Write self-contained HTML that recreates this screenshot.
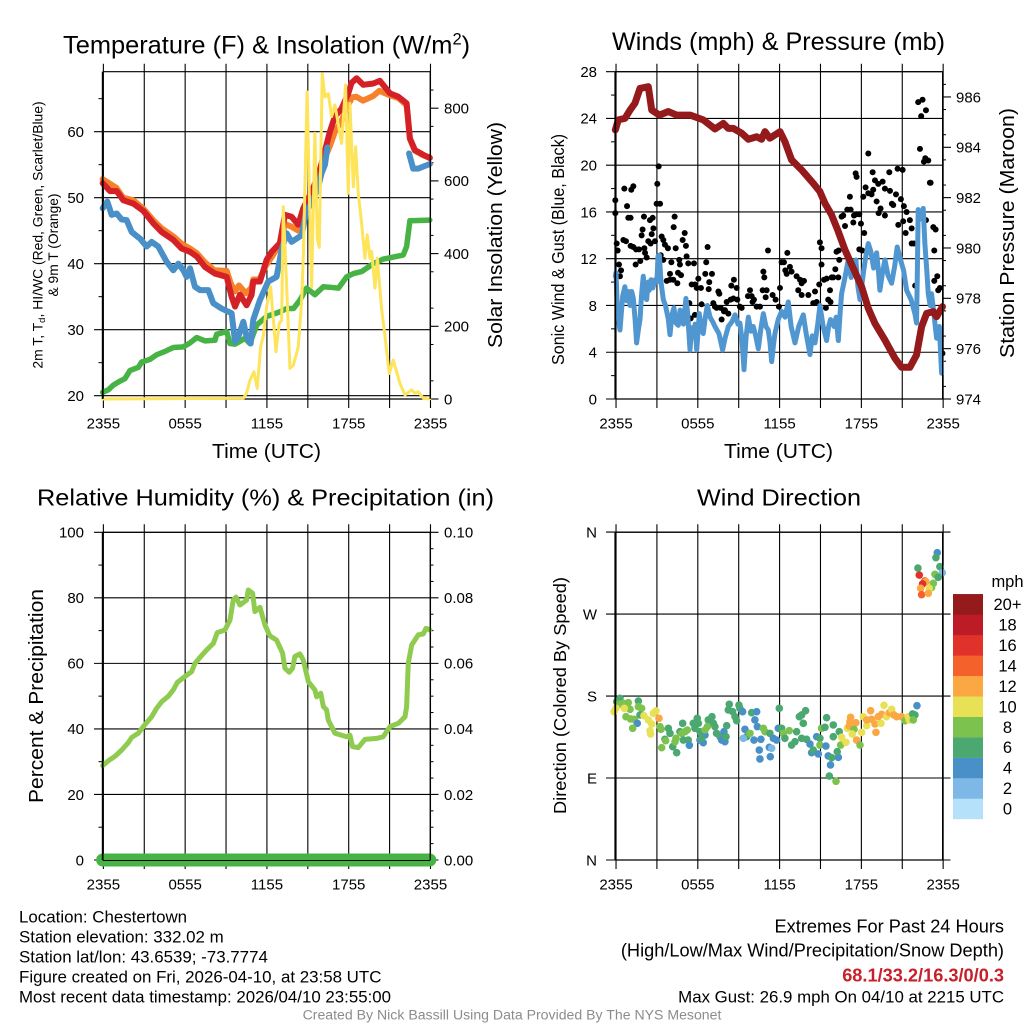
<!DOCTYPE html>
<html>
<head>
<meta charset="utf-8">
<title>Chestertown Station Meteogram</title>
<style>
html,body{margin:0;padding:0;background:#fff;}
svg{display:block;font-family:"Liberation Sans",Arial,sans-serif;fill:#000;}
</style>
</head>
<body>
<svg id="chart" width="1024" height="1024" viewBox="0 0 1024 1024">
<rect x="0" y="0" width="1024" height="1024" fill="#fff"/>
<text x="63" y="53.5" font-size="25.4">Temperature (F) &amp; Insolation (W/m<tspan dy="-9" font-size="16.5">2</tspan><tspan dy="9">)</tspan></text>
<text x="612" y="50" font-size="25" textLength="333" lengthAdjust="spacingAndGlyphs">Winds (mph) &amp; Pressure (mb)</text>
<text x="37" y="505.5" font-size="23.5" textLength="457" lengthAdjust="spacingAndGlyphs">Relative Humidity (%) &amp; Precipitation (in)</text>
<text x="697" y="505.5" font-size="23.5" textLength="164" lengthAdjust="spacingAndGlyphs">Wind Direction</text>
<text x="212" y="458" font-size="20" textLength="109" lengthAdjust="spacingAndGlyphs">Time (UTC)</text>
<text x="724" y="458" font-size="20" textLength="109" lengthAdjust="spacingAndGlyphs">Time (UTC)</text>
<text transform="translate(42.5 235) rotate(-90)" text-anchor="middle" font-size="13.9">2m T, T<tspan dy="2.5" font-size="9.5">d</tspan><tspan dy="-2.5">, HI/WC (Red, Green, Scarlet/Blue)</tspan></text>
<text transform="translate(58 245) rotate(-90)" text-anchor="middle" font-size="13.8">&amp; 9m T (Orange)</text>
<text transform="translate(502 235) rotate(-90)" text-anchor="middle" font-size="20" textLength="226" lengthAdjust="spacingAndGlyphs">Solar Insolation (Yellow)</text>
<text transform="translate(564 249.5) rotate(-90)" text-anchor="middle" font-size="17.3" textLength="231" lengthAdjust="spacingAndGlyphs">Sonic Wind &amp; Gust (Blue, Black)</text>
<text transform="translate(1014 233) rotate(-90)" text-anchor="middle" font-size="20" textLength="250" lengthAdjust="spacingAndGlyphs">Station Pressure (Maroon)</text>
<text transform="translate(43 696) rotate(-90)" text-anchor="middle" font-size="20" textLength="214" lengthAdjust="spacingAndGlyphs">Percent &amp; Precipitation</text>
<text transform="translate(566 695.5) rotate(-90)" text-anchor="middle" font-size="17.3" textLength="237" lengthAdjust="spacingAndGlyphs">Direction (Colored By Speed)</text>
<text x="1007.5" y="587" text-anchor="middle" font-size="16.5">mph</text>
<text x="19" y="922.5" font-size="16.9">Location: Chestertown</text>
<text x="19" y="942.5" font-size="16.9">Station elevation: 332.02 m</text>
<text x="19" y="962.5" font-size="16.9">Station lat/lon: 43.6539; -73.7774</text>
<text x="19" y="982.5" font-size="16.9">Figure created on Fri, 2026-04-10, at 23:58 UTC</text>
<text x="19" y="1002.5" font-size="16.9" textLength="372" lengthAdjust="spacingAndGlyphs">Most recent data timestamp: 2026/04/10 23:55:00</text>
<text x="1004" y="932.7" text-anchor="end" font-size="18.2">Extremes For Past 24 Hours</text>
<text x="1004" y="956.5" text-anchor="end" font-size="18.2">(High/Low/Max Wind/Precipitation/Snow Depth)</text>
<text x="1004" y="981.5" text-anchor="end" font-size="18.2" font-weight="bold" fill="#c8202a" style="fill:#c8202a">68.1/33.2/16.3/0/0.3</text>
<text x="1004" y="1002.7" text-anchor="end" font-size="16.85">Max Gust: 26.9 mph On 04/10 at 2215 UTC</text>
<text x="512" y="1019.5" text-anchor="middle" font-size="14.1" style="fill:#8c8c8c">Created By Nick Bassill Using Data Provided By The NYS Mesonet</text>
</svg>
<script>
// ---- shared tick labels ----
const timeTickLabels = ['2355', '0555', '1155', '1755', '2355'];
const tempTicks = [20, 30, 40, 50, 60];
const solarTicks = [0, 200, 400, 600, 800];
const windTicks = [0, 4, 8, 12, 16, 20, 24, 28];
const pressureTicks = [974, 976, 978, 980, 982, 984, 986];
const humidityTicks = [0, 20, 40, 60, 80, 100];
const precipTicks = [0, 0.02, 0.04, 0.06, 0.08, 0.10];
const directionTicks = [0, 90, 180, 270, 360];
const directionLabels = ['N', 'E', 'S', 'W', 'N'];
const speedLabels = ['0', '2', '4', '6', '8', '10', '12', '14', '16', '18', '20+'];
const speedColors = ['#b5e2fa', '#7eb8e6', '#4a90c8', '#4aa870', '#7cc24f', '#e8e155', '#fba844', '#f4612a', '#e0322a', '#bd1c26', '#951a1c'];

// ---- temperature panel ----
const heatHours = [0,0.54,1.03,1.52,2.25,2.98,3.72,4.33,5.18,5.79,6.41,6.9,7.51,8.24,9.1,9.46,9.71,10.07,10.56,10.93,11.05,11.54,12.03,12.4,13,13.37,13.86,14.35,14.72,15.33,15.82,16.19,16.67,17.04,17.53,18.02,18.26,18.63,19.12,19.85,20.34,21.08,21.69,22.3,22.54,22.91,23.52,24];
const heatValues = [52.2,51,51,49.6,49.1,48,46.1,44.8,43.6,42.3,41.8,41.1,39.5,38.5,38,35,33.5,35.3,33.7,35.3,37.3,37.3,40.6,41.8,43.1,47.4,47.1,45.9,48.4,50.9,53.4,56.2,60,62.3,63.5,65.8,67.4,68.1,67.1,67.3,67.7,65.8,65.3,64.3,59,57.2,56.5,56];
const nineMeterHours = [0,1,1.5,2.25,3,3.7,4.3,5.2,5.8,6.4,6.9,7.5,8.2,9.1,9.4,9.7,10,10.5,10.9,11.05,11.5,12,12.4,13,13.37,13.86,14.35,14.7,15.3,15.8,16.2,16.7,17.04,17.5,18,18.3,18.6,19.1,19.85,20.3,21.08,21.7,22.3,22.54,22.91,23.52,24];
const nineMeterValues = [52.8,51.5,50,49.6,48.3,46.6,45.4,44.1,43,42.3,41.6,40.2,39,38.9,37,35.8,36.7,35.5,36.3,37.6,37.6,39.8,41,43,46,45.6,45,47.5,50.5,53,55.5,58,60,61.5,64,65.2,65.3,64.7,65.4,66.2,65.5,65.1,64,58.9,57.1,56.4,56.1];
const chillHours = [0,0.34,0.66,1.03,1.39,1.76,2.13,2.74,3.23,3.59,4.08,4.69,5.18,5.55,5.92,6.16,6.41,6.77,7.14,7.75,8.12,8.73,9.46,9.71,9.95,10.32,10.56,10.86,11.05,11.54,12.15,12.76,13.13,13.5,13.86,14.6,14.96,15.33,15.82,16.06,16.31,16.48,null,22.48,22.78,23.15,24];
const chillValues = [48.4,49.4,47.4,47.6,46.7,46.6,44.8,43.8,42.6,43.3,42.6,40.3,39,40,39,38,39.3,36.5,36,36,34,33.2,32.5,28.2,28.9,31.2,28.9,27.9,31.5,34.5,37.3,38,42.1,44.6,43.3,44.3,48.1,49.1,51.7,53.7,55,57.6,null,56.7,54.4,54.4,55.1];
const dewHours = [0,0.42,0.78,1.27,1.64,2,2.62,2.86,3.47,3.96,4.57,5.18,5.92,6.41,6.9,7.51,8.24,8.36,9.1,9.34,9.71,10.2,10.44,10.8,11.3,12.03,13,13.5,14,14.48,14.96,15.57,16.19,16.8,17.3,17.9,18.4,19,19.85,20.6,22.05,22.3,22.54,24];
const dewValues = [20.5,20.9,21.6,22.2,22.6,23.8,24.3,25.1,25.5,26.2,26.7,27.3,27.4,28,28.8,28.3,28.4,29.3,29.7,27.9,27.8,28.4,28.7,27.9,30.7,32,32.7,33.2,33.2,34.5,36.3,35.3,36.5,36.4,36.3,38,38.5,38.8,40,40.7,41.3,42.6,46.5,46.6];
const solarHours = [0,10.32,10.56,10.81,11.1,11.34,11.59,11.78,12.03,12.32,12.57,12.71,12.96,13.13,13.25,13.5,13.74,13.99,14.35,14.6,14.72,15,15.16,15.33,15.57,15.75,15.89,16.11,16.31,16.55,16.8,17.04,17.53,17.82,18.02,18.14,18.39,18.56,18.75,19,19.24,19.41,19.61,19.73,19.98,20.15,20.46,20.7,21.03,21.32,21.81,22.18,22.67,22.9,23.15,23.52,24];
const solarValues = [0,2,16,52,75,29,144,172,254,309,199,130,208,216,529,309,84,93,143,272,391,845,566,308,731,440,417,895,831,840,777,809,703,864,566,813,584,694,566,483,387,452,387,406,305,387,250,176,70,107,43,11,25,16,20,2,0];

// ---- wind panel ----
const sustainedHours = [0,0.05,0.15,0.34,0.45,0.54,0.7,0.83,0.95,1.08,1.2,1.32,1.45,1.56,1.7,1.81,1.93,2.05,2.18,2.3,2.4,2.49,2.62,2.75,2.91,3.05,3.13,3.23,3.35,3.52,3.68,3.89,4.01,4.15,4.3,4.45,4.62,4.75,4.87,5,5.18,5.3,5.48,5.6,5.72,5.85,5.97,6.08,6.16,6.3,6.45,6.6,6.75,6.95,7.15,7.31,7.6,7.87,8.05,8.29,8.55,8.78,9,9.14,9.3,9.44,9.6,9.76,9.95,10.12,10.3,10.49,10.7,10.86,11.05,11.22,11.35,11.47,11.6,11.71,11.95,12.2,12.45,12.69,12.9,13.18,13.45,13.79,14,14.28,14.45,14.65,14.85,15.01,15.25,15.5,15.65,15.79,16.05,16.2,16.36,16.5,16.6,16.85,17.09,17.3,17.65,17.8,17.95,18.2,18.35,18.56,18.75,18.95,19.17,19.3,19.41,19.6,19.78,20,20.27,20.5,20.68,20.9,21.15,21.37,21.7,21.98,22.1,22.16,22.22,22.4,22.59,22.71,22.85,22.96,23.1,23.2,23.4,23.57,23.77,23.94];
const sustainedValues = [10.5,10.8,7.6,5.9,7.5,8.8,9.6,8.4,9.2,8,9.2,8.6,6.8,4.8,6,6.8,9,10.5,8.8,8.5,10,9.3,10.2,9.5,10.2,10,12.2,12.3,10,8.5,8,6.8,5.5,7.2,7.8,6.5,6.3,7.6,7.1,6.4,8.6,7.4,4.2,6.1,5.3,6.4,4.2,5.9,7.3,6,5.6,7,8,7,6.6,6.2,5.6,4.2,5.2,6.2,6.6,7.2,6.4,6.5,5,2.5,5.4,7,5.8,6.2,5.4,4.3,6.2,7.3,6.2,5.9,4.8,3.2,4.6,5.6,6.8,7.5,7,8.3,6.2,4.8,6.2,7.2,5.6,3.8,5.4,4.8,6.4,8,6.2,5,6.2,6.8,6.2,7,5,7.5,9,10.4,11.9,10.4,11.9,9.6,8.5,10.8,12,13.3,12.6,11.2,12.5,11,9.3,10.8,11.9,10.6,9.9,11.4,13,12,11,9.3,8.5,7.3,6.5,11,16.2,15.4,16.3,13.3,11,9,8,9,7,5.2,6.2,2.2];
const gustHours = [0,0,0.1,0.17,0.27,0.42,0.34,0.59,0.78,0.66,0.86,1.17,1.32,0.95,1.12,1.12,1.32,1.52,1.74,1.49,1.83,2.13,2.18,2.3,2.1,2,1.93,2.42,2.59,2.54,2.74,2.79,2.67,2.91,3.08,3.18,3.03,3.28,3.4,3.52,3.64,3.33,3.52,3.86,4.11,4.01,3.77,4.01,4.25,4.28,4.35,4.43,4.55,4.69,4.6,4.82,4.74,4.94,5.09,5.18,5.23,5.35,5.77,5.6,5.84,6.09,5.97,6.28,6.67,6.77,6.6,6.89,7.09,6.85,6.33,5.43,5.84,5.53,6.21,7.19,7.31,7.56,7.63,7.43,7.73,8.17,8.46,8.51,8.7,8.9,8.66,8.95,9.14,9.27,7.97,8.29,8.04,7.8,9.73,9.88,10,10.17,10.07,10.37,10.61,10.81,11.1,11.03,10.86,10.93,11.2,11.54,11.76,12,12.08,12.2,12.37,12.62,12.47,12.57,12.81,12.93,13.3,13.55,13.67,13.84,13.42,13.67,14.16,14.52,14.77,14.65,14.96,15.01,15.13,15.13,15.31,15.5,15.87,15.75,15.62,15.79,15.45,16.14,16.23,16.38,16.43,15.99,16.36,16.6,16.85,16.72,17.02,17.21,17.26,17.46,17.51,17.7,17.9,18.02,18.26,17.9,18.12,17.63,17.7,18.56,18.36,18.88,19.05,19.61,20.1,20.71,21.08,18.19,18.56,18.8,18.92,19.29,19.78,20.15,20.59,20.95,19.17,19.46,20.39,20.29,19.78,19.32,21.17,21.37,20.76,21.12,21.3,21.61,21.74,21.74,21.91,23.33,23.5,22.79,22.22,22.54,22.79,22.44,22.35,22.64,22.74,22.96,23.08,23.13,22,23.4,23.62,23.69,23.81,23.4,24];
const gustValues = [15.9,17,13.3,12.7,11.5,11,10.5,13.6,13.5,18,16.5,17.9,18.2,15.5,15.5,13.1,13,12.8,12.8,11.5,11.8,12.9,12.5,12.1,15.6,14.5,14,13.5,13.3,15.3,15.5,14.6,14.1,13.5,18.4,19.9,16.7,16.7,13.9,13.6,13.2,12.3,11.9,12.9,11.7,10.7,10.1,10.2,10.2,14.7,15.6,12.9,9.9,11.9,10.8,10.6,11.5,13.6,14.2,13.1,12.2,11.6,11.6,9.8,9.8,10.3,9.5,9.5,11.7,13,10.7,10,10.7,9.4,8.1,8.2,7.2,6.9,6.6,8.2,7.9,9.2,9,7.8,7.8,8.3,8.5,9.7,10.2,9.5,8.6,8.5,7.9,7.8,7.5,7.3,7.6,6.8,8.8,9.3,8.8,8.5,8.3,7.9,7.9,9.3,9.3,8.7,10.9,10.4,12.7,8.9,8.5,7.9,9.5,11.7,11.7,12.5,11,10.7,11.3,10.9,10.5,10.2,9.9,10.1,9.3,8.9,8.9,8.2,8.3,9.2,9.8,13.4,12.9,11.5,10.2,10.3,10.4,9.3,8.5,8.3,7.8,11.1,12.6,12.7,11.9,10.4,10.4,15.6,14.8,15.7,16.2,17.3,16.2,15.1,15.7,15.8,15.8,15,14.2,12.8,12.7,19.3,19,21,18.1,19.4,18.7,18.6,19.4,19.7,19.6,17.3,17.6,17.5,17.9,18.4,18,17.8,17.5,17.1,16.9,16.3,16.6,16.7,15.7,15.9,16.5,16,14.9,15.2,14.2,15.3,14.6,13.3,13.3,14.7,14.5,15.3,25.4,25.6,24.7,24.2,21.4,20.3,20.6,20.4,18.5,18.5,9.7,10.1,10.5,9.3,9.5,12.7,3.9];
const pressureHours = [0,0.22,0.71,1.08,1.44,1.81,2.42,2.67,3.23,3.89,4.5,5.48,6.45,7.31,7.92,8.29,8.66,9.27,9.76,10.37,10.73,10.98,11.34,12.08,12.44,12.93,13.67,14.52,15.01,15.38,15.87,16.36,16.85,17.46,18.07,18.56,19.05,19.78,20.51,21,21.61,22.1,22.47,22.84,23.33,23.57,24];
const pressureValues = [984.69,985.09,985.15,985.48,985.75,986.34,986.41,985.48,985.28,985.42,985.28,985.28,985.09,984.73,984.95,984.75,984.75,984.56,984.32,984.42,984.32,984.62,984.36,984.62,984.23,983.5,983.1,982.57,982.24,981.77,981.31,980.65,979.92,979.19,978.46,977.6,977,976.34,975.62,975.26,975.26,975.75,976.87,977.4,977.47,977.27,977.67];

// ---- humidity and precipitation panel ----
const humidityHours = [0,0.42,0.92,1.41,1.88,2.13,2.62,2.98,3.59,3.96,4.33,4.82,5.18,5.48,6.04,6.53,6.77,7.26,7.63,8.12,8.41,8.97,9.34,9.58,9.78,10.07,10.56,10.68,11,11.17,11.54,11.91,12.27,12.76,13.2,13.37,13.69,13.93,14.1,14.47,14.72,15.09,15.57,15.7,16,16.19,16.43,16.55,17.04,17.9,18.14,18.34,18.75,19.24,20.1,20.58,21.08,21.69,22.18,22.3,22.42,22.67,23.15,23.52,23.72,24];
const humidityValues = [28.8,30.3,31.7,33.6,35.8,37.4,38.7,40.7,43.7,46.3,48.3,50,51.9,54.2,56,57.5,60,62.4,64.1,66.1,69.4,70.2,73.2,79.3,80.2,77.8,79.3,82.4,81.4,75.8,77.1,71.7,68.4,67.1,63.1,58.5,57.3,58.5,62.1,62.9,61,54.4,51.9,49.8,50.9,46.8,45.8,42.7,38.7,37.6,38.1,34.6,34.3,36.8,37.1,37.6,40.7,41.7,43.7,46.8,60,65.6,68.7,69,70.7,70.2];
const precipHours = [0, 24];
const precipValues = [0, 0];

// ---- wind direction panel ----
const directionHours = [
0.34,0.1,0.29,0.59,0.95,1.08,-0.1,0.05,0.66,1.69,
1.69,1.93,1.81,0.78,1.12,1.39,1.61,1.27,2.1,2.42,
2.79,2.98,2.67,2.54,2.59,3.2,3.28,3.35,3.89,4.01,
4.94,3.64,3.69,3.4,4.21,4.5,4.38,4.45,4.74,4.87,
5.11,5.28,4.99,5.35,5.43,5.72,6.01,6.09,5.84,6.21,
6.21,6.45,6.58,6.33,6.82,7.09,7.19,7.31,6.58,6.75,
7.43,7.68,7.97,7.8,8.04,8.12,8.17,8.36,8.29,8.61,
8.78,8.9,9.07,9.14,9.34,10,10.37,10.24,10.42,9.51,
9.63,9.39,9.88,10.17,10.68,10.86,10.98,11.34,10.56,10.61,
11.3,11.47,11.37,11.59,11.83,11.96,12.2,12.03,12.32,12.44,
12.76,13.3,12.93,13.18,13.5,13.96,13.67,13.79,13.67,14.03,
14.28,14.4,14.52,14.89,14.77,15.01,15.13,15.38,15.5,15.01,
15.45,15.99,16.43,15.99,15.62,15.87,16.36,16.28,15.79,15.7,
16.19,16.53,16.6,16.92,17.02,17.21,17.26,17.16,17.65,17.51,
17.38,17.7,17.95,18.07,18.19,18.44,18.44,18.73,18.8,19.12,
19.05,19.49,19.29,19.54,19.71,19.9,20.1,20.27,20.44,20.64,
21,21.25,21.49,21.56,21.81,21.98,21.86,22.13,23.62,23.52,
23.81,23.99,23.45,23.69,22.2,22.3,22.71,22.79,22.54,23.33,
23.2,23.03,22.4,22.47,22.96];
const directionDegrees = [
177.5,173.8,171.2,172,172.7,165.4,162.8,166.5,166.5,174.5,
168.3,166.5,159.2,157.3,154.8,154.4,150,144.5,158.4,153.7,
161,163.6,149.3,142,138.3,155.5,146.4,143.4,144.5,139,
150,132.5,131,123.3,124.4,117.8,129.9,133.6,140.9,139,
140.9,142.7,131.7,131.7,125.9,150,155.5,150,144.5,140.9,
131.7,128.8,137.2,133.6,153.7,157.3,150,146.4,142.7,146.4,
139,135.4,140.9,131.7,129.9,135.4,147.5,170.9,164.7,162.8,
157.3,152.9,170.1,166.5,162.8,161.7,162.8,153.7,146.4,143.4,
135.4,133.6,139,131.7,132.5,144.5,140.9,139,120.7,110.9,
123.7,122.6,113.4,133.6,131.7,144.5,144.5,166.5,139,133.6,
142,140.9,126.2,129.9,157.3,163.9,159.2,150,133.6,132.5,
127.3,117.8,120.7,116.4,135.4,133.6,144.5,145.6,156.2,126.2,
125.1,148.2,140.9,135.4,114.2,112.3,112.7,118.9,104.3,92.2,
86.4,126.2,134.7,129.2,144.5,151.8,156.6,147.1,150.7,143.4,
138.3,131.7,126.2,140.1,157.3,147.5,153.7,163.9,154.4,140.1,
149.3,150,157.3,159.9,169.8,157.3,161.7,165.4,159.2,157.3,
157.3,152.9,157.3,153.7,160.3,159.2,153.7,169.4,337.4,331.9,
322,315.4,313.6,310.3,320.5,312.8,306.3,305.5,303,303.7,
299,298.2,298.2,291.3,292.7];
const directionSpeeds = [
6,6,8,8,8,8,10,10,10,6,
8,8,6,8,8,8,4,8,10,10,
10,10,10,10,10,12,8,8,6,6,
6,6,8,8,6,6,8,8,6,8,
8,8,6,6,4,6,6,6,6,6,
4,4,4,6,6,6,6,6,8,8,
6,6,4,4,4,6,6,6,6,6,
6,6,6,6,4,6,4,4,4,4,
6,2,8,4,4,8,8,6,4,4,
4,2,4,4,4,4,6,6,8,6,
8,6,6,6,6,6,6,6,6,6,
4,4,6,4,4,6,8,6,6,8,
4,6,6,6,4,6,4,6,4,6,
8,8,10,10,10,12,12,12,12,8,
10,12,8,10,10,10,12,12,12,12,
12,10,12,12,10,10,12,10,12,12,
12,8,10,10,6,6,8,4,4,6,
6,2,8,6,6,16,14,12,16,8,
8,10,12,14,12];

const svg = document.getElementById('chart');
const NS = svg.namespaceURI;

// ---- axis functions ----
function xLeft(h) { return 102.67 + h * 13.63; }
function xRight(h) { return 615.33 + h * 13.63; }
function yTemp(v) { return 395.67 - (v - 20) * 6.6; }
function ySolar(v) { return 399 - v * 0.3635; }
function yWind(v) { return 399 - v * 11.69; }
function yPressure(v) { return 399 - (v - 974) * 25.17; }
function yHumidity(v) { return 860 - v * 3.277; }
function yPrecip(v) { return 860 - v * 3277; }
function yDirection(v) { return 860 - v * 0.911; }

function addLine(x1, y1, x2, y2, w) {
  const el = document.createElementNS(NS, 'line');
  el.setAttribute('x1', x1);
  el.setAttribute('y1', y1);
  el.setAttribute('x2', x2);
  el.setAttribute('y2', y2);
  el.setAttribute('stroke', '#000');
  el.setAttribute('stroke-width', w);
  svg.appendChild(el);
  return el;
}
function addText(x, y, str, anchor, size) {
  const el = document.createElementNS(NS, 'text');
  el.setAttribute('x', x);
  el.setAttribute('y', y);
  el.setAttribute('text-anchor', anchor);
  el.setAttribute('font-size', size);
  el.textContent = str;
  svg.appendChild(el);
  return el;
}
function addSeries(hours, values, xFn, yFn, color, width) {
  let d = '';
  let pen = false;
  for (let i = 0; i < hours.length; i++) {
    if (hours[i] === null || values[i] === null) { pen = false; continue; }
    d += (pen ? 'L' : 'M') + xFn(hours[i]).toFixed(2) + ' ' + yFn(values[i]).toFixed(2);
    pen = true;
  }
  const el = document.createElementNS(NS, 'path');
  el.setAttribute('d', d);
  el.setAttribute('fill', 'none');
  el.setAttribute('stroke', color);
  el.setAttribute('stroke-width', width);
  el.setAttribute('stroke-linejoin', 'round');
  el.setAttribute('stroke-linecap', 'round');
  svg.appendChild(el);
  return el;
}
function addDot(x, y, r, color) {
  const el = document.createElementNS(NS, 'circle');
  el.setAttribute('cx', x.toFixed(2));
  el.setAttribute('cy', y.toFixed(2));
  el.setAttribute('r', r);
  el.style.fill = color;
  svg.appendChild(el);
  return el;
}

// ---- axes shared pieces ----
function drawVerticalGrid(xFn, top, bottom, labelY) {
  for (let h = 0; h <= 24; h += 3) {
    const x = xFn(h) + 0.7;
    const g = addLine(x, top - 8, x, bottom + 9, 1.1);
    
    
  }
  timeTickLabels.forEach(function (lab, i) {
    const t = addText(xFn(i * 6) + 0.7, labelY, lab, 'middle', 15);
    
    
  });
}
function drawHorizontalGrid(ticks, yFn, x1, x2) {
  ticks.forEach(function (v) {
    const g = addLine(x1, yFn(v), x2, yFn(v), 1.1);
    
    
  });
}
function drawTickLabels(ticks, labels, yFn, x, anchor) {
  ticks.forEach(function (v, i) {
    const t = addText(x, yFn(v) + 5.3, labels[i], anchor, 15);
    
    
  });
}
function drawMinorTicks(start, end, step, yFn, x1, x2) {
  for (let v = start; v <= end + 1e-9; v += step) {
    const m = addLine(x1, yFn(v), x2, yFn(v), 1);
    
    
  }
}
function drawMajorTicks(ticks, yFn, x1, x2) {
  ticks.forEach(function (v) {
    const m = addLine(x1, yFn(v), x2, yFn(v), 1.1);
    
    
  });
}
function drawFrameSide(x1, y1, x2, y2, w) {
  const f = addLine(x1, y1, x2, y2, w);
  
  
}

// ---- panel 1: temperature & insolation ----
drawVerticalGrid(xLeft, 71.7, 399, 428.5);
drawHorizontalGrid(tempTicks, yTemp, 94, 430);
drawMinorTicks(25, 65, 10, yTemp, 98.5, 102.7);
drawMajorTicks(solarTicks, ySolar, 430, 438.5);
drawMinorTicks(50, 850, 100, ySolar, 430, 433.5);
drawTickLabels(tempTicks, tempTicks.map(String), yTemp, 84, 'end');
drawTickLabels(solarTicks, solarTicks.map(String), ySolar, 444, 'start');
drawFrameSide(102.7, 399, 430, 399, 1.2);
const dewLine = addSeries(dewHours, dewValues, xLeft, yTemp, '#46b344', 5.5);


const nineMeterLine = addSeries(nineMeterHours, nineMeterValues, xLeft, yTemp, '#f7802b', 6);


const heatLine = addSeries(heatHours, heatValues, xLeft, yTemp, '#d42127', 6);


const chillLine = addSeries(chillHours, chillValues, xLeft, yTemp, '#4a90c8', 6);


const solarLine = addSeries(solarHours, solarValues, xLeft, ySolar, '#fde45a', 3);


drawFrameSide(102.7, 71.7, 430.2, 71.7, 1.2);
drawFrameSide(102.7, 71.7, 102.7, 399, 1.8);
drawFrameSide(430.2, 71.7, 430.2, 399, 1.2);

// ---- panel 2: winds & pressure ----
drawVerticalGrid(xRight, 71.7, 399, 428.5);
drawHorizontalGrid(windTicks, yWind, 606, 942.6);
drawMinorTicks(2, 26, 4, yWind, 611, 615.3);
drawMajorTicks(pressureTicks, yPressure, 942.6, 951);
drawMinorTicks(974.5, 986.5, 1, yPressure, 942.6, 946);
drawTickLabels(windTicks, windTicks.map(String), yWind, 597, 'end');
drawTickLabels(pressureTicks, pressureTicks.map(String), yPressure, 956, 'start');
gustHours.forEach(function (h, i) {
  const dot = addDot(xRight(h), yWind(gustValues[i]), 3, '#000');
  
  
});
const sustainedLine = addSeries(sustainedHours, sustainedValues, xRight, yWind, '#5096d0', 5);


const pressureLine = addSeries(pressureHours, pressureValues, xRight, yPressure, '#951a1c', 7);


drawFrameSide(615.3, 71.7, 942.6, 71.7, 1.2);
drawFrameSide(615.3, 399, 942.6, 399, 1.2);
drawFrameSide(615.3, 71.7, 615.3, 399, 1.8);
drawFrameSide(942.6, 71.7, 942.6, 399, 1.2);

// ---- panel 3: humidity & precipitation ----
drawVerticalGrid(xLeft, 532.3, 860, 889.5);
drawHorizontalGrid(humidityTicks, yHumidity, 94, 438.5);
drawMinorTicks(10, 90, 20, yHumidity, 98.5, 102.7);
drawMinorTicks(0.005, 0.095, 0.01, yPrecip, 430, 433.5);
drawMinorTicks(0.01, 0.09, 0.02, yPrecip, 430, 433.5);
drawTickLabels(humidityTicks, humidityTicks.map(String), yHumidity, 84, 'end');
drawTickLabels(precipTicks, precipTicks.map(function (v) { return v.toFixed(2); }), yPrecip, 444, 'start');
const humidityLine = addSeries(humidityHours, humidityValues, xLeft, yHumidity, '#8fcb4f', 5);


const precipLine = addSeries(precipHours, precipValues, xLeft, yPrecip, '#46b344', 13);


drawFrameSide(102.7, 532.3, 430.2, 532.3, 1.2);
drawFrameSide(102.7, 860.5, 430.2, 860.5, 1);
drawFrameSide(102.7, 532.3, 102.7, 860, 1.8);
drawFrameSide(430.2, 532.3, 430.2, 860, 1.2);

// ---- panel 4: wind direction ----
drawVerticalGrid(xRight, 532.3, 860, 889.5);
drawHorizontalGrid(directionTicks, yDirection, 606, 950.5);
drawTickLabels(directionTicks, directionLabels, yDirection, 597, 'end');
directionHours.forEach(function (h, i) {
  const colorIndex = Math.min(speedColors.length - 1, Math.round(directionSpeeds[i] / 2));
  const dot = addDot(xRight(h), yDirection(directionDegrees[i]), 3.8, speedColors[colorIndex]);
  
  
});
drawFrameSide(615.3, 532.3, 942.6, 532.3, 1.2);
drawFrameSide(615.3, 860, 942.6, 860, 1.2);
drawFrameSide(615.3, 532.3, 615.3, 860, 1.8);
drawFrameSide(942.6, 532.3, 942.6, 860, 1.2);

// ---- speed colorbar ----
speedLabels.forEach(function (lab, i) {
  const segmentHeight = 20.45;
  const top = 819 - (i + 1) * segmentHeight;
  const seg = document.createElementNS(NS, 'rect');
  seg.setAttribute('x', 953);
  seg.setAttribute('y', top);
  seg.setAttribute('width', 30);
  seg.setAttribute('height', segmentHeight + 0.2);
  seg.style.fill = speedColors[i];
  svg.appendChild(seg);
  
  
  const t = addText(1007.5, top + segmentHeight / 2 + 5.8, lab, 'middle', 16.5);
  
  
});
</script>
</body>
</html>
